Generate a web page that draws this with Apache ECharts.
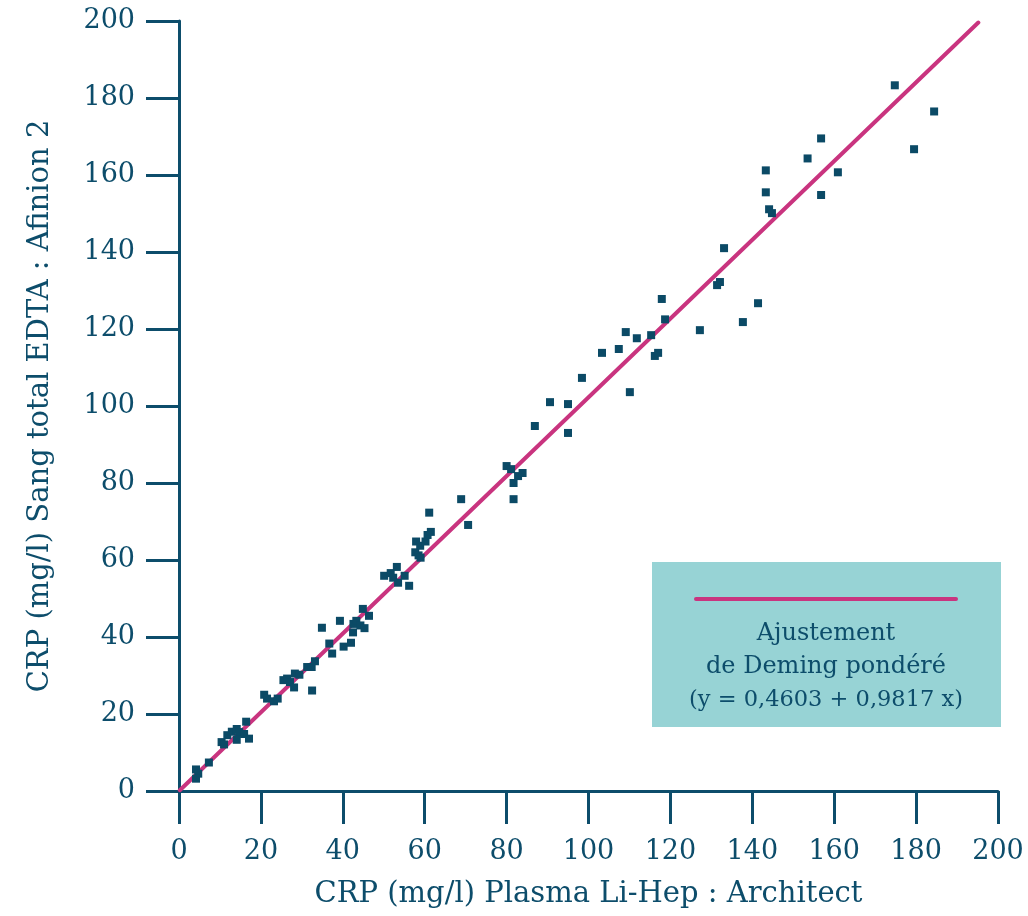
<!DOCTYPE html>
<html>
<head>
<meta charset="utf-8">
<script src="https://cdn.jsdelivr.net/npm/echarts@6/dist/echarts.min.js"></script>
<style>
html,body{margin:0;padding:0;background:#fff;}
#chart{width:1028px;height:916px;}
</style>
</head>
<body>
<div id="chart"></div>
<script>
// Data
var plasmaX = [
  4.15,4.7,4.15,7.3,10.4,11.0,11.8,12.9,14.1,14.7,14.1,15.9,16.4,17.1,
  20.8,21.5,23.2,24.1,25.5,26.4,27.1,28.1,28.3,29.4,31.3,32.4,33.2,32.5,
  34.9,36.7,37.4,39.3,40.2,42.0,42.5,42.6,43.3,44.3,45.3,44.9,46.4,
  50.1,51.7,52.3,53.2,53.5,55.1,56.2,57.7,57.9,58.5,58.9,59.0,60.2,60.7,61.1,61.5,
  68.9,70.6,
  80.0,81.1,81.7,81.7,82.8,83.9,86.9,90.6,95.0,95.0,98.4,
  103.3,107.4,109.1,110.1,111.8,115.3,116.2,117.0,117.9,118.7,127.2,
  131.4,132.1,133.1,137.7,141.4,143.3,143.3,144.1,144.8,
  153.5,156.8,156.8,160.9,174.8,179.5,184.4
];
var bloodY = [
  5.6,4.5,3.2,7.4,12.7,12.1,14.5,15.4,16.1,15.3,13.3,14.8,18.0,13.6,
  25.0,24.0,23.3,24.0,28.8,29.2,28.3,26.9,30.5,30.2,32.2,32.2,33.7,26.1,
  42.4,38.3,35.7,44.2,37.5,38.5,41.2,43.4,44.2,43.0,42.3,47.3,45.5,
  55.9,56.6,55.4,58.2,54.1,55.9,53.3,62.0,64.8,61.2,63.7,60.6,64.8,66.5,72.3,67.3,
  75.8,69.1,
  84.4,83.6,80.0,75.8,81.8,82.6,94.8,101.0,100.5,93.0,107.3,
  113.8,114.8,119.2,103.6,117.6,118.4,113.0,113.8,127.8,122.5,119.7,
  131.4,132.2,141.0,121.8,126.7,161.2,155.5,151.1,150.1,
  164.3,169.5,154.8,160.7,183.3,166.7,176.5
];
// Fitted line as drawn (start / end)
var fitX = [0.2, 195.2];
var fitY = [0.2, 199.6];
var axisTicks = [0, 20, 40, 60, 80, 100, 120, 140, 160, 180, 200];
var xTitle = 'CRP (mg/l) Plasma Li-Hep : Architect';
var yTitle = 'CRP (mg/l) Sang total EDTA : Afinion 2';
var legendLines = ['Ajustement', 'de Deming pondéré', '(y = 0,4603 + 0,9817 x)'];

var C_AXIS = '#0d4d6b';
var C_PT = '#0b4a66';
var C_FIT = '#c9347f';
var C_BOX = '#97d3d5';
var FONT = 'DejaVu Serif';

var pts = plasmaX.map(function(x, i){ return [x, bloodY[i]]; });
var fit = fitX.map(function(x, i){ return [x, fitY[i]]; });

function axisCfg(isX){
  return {
    type: 'value',
    min: axisTicks[0],
    max: axisTicks[axisTicks.length-1],
    interval: axisTicks[1]-axisTicks[0],
    name: isX ? xTitle : yTitle,
    nameLocation: 'middle',
    nameGap: isX ? 89 : 124,
    nameTextStyle: {color: C_AXIS, fontFamily: FONT, fontSize: 29},
    axisLine: {show: true, onZero: false, lineStyle: {color: C_AXIS, width: 3}},
    axisTick: {show: true, inside: false, length: 33, lineStyle: {color: C_AXIS, width: 3}},
    axisLabel: {color: C_AXIS, fontFamily: FONT, fontSize: 27, margin: isX ? 47 : 44},
    splitLine: {show: false}
  };
}

var chart = echarts.init(document.getElementById('chart'), null, {renderer: 'canvas'});
chart.setOption({
  animation: false,
  backgroundColor: '#ffffff',
  grid: {left: 179, right: 30, top: 21, bottom: 125, containLabel: false},
  xAxis: axisCfg(true),
  yAxis: axisCfg(false),
  series: [
    {
      type: 'line',
      data: fit,
      showSymbol: false,
      symbol: 'none',
      lineStyle: {color: C_FIT, width: 4, cap: 'round'},
      z: 2
    },
    {
      type: 'scatter',
      data: pts,
      symbol: 'rect',
      symbolSize: 8,
      itemStyle: {color: C_PT, opacity: 1},
      z: 3
    }
  ],
  graphic: [
    {type: 'rect', left: 652, top: 562, shape: {width: 349, height: 165}, style: {fill: C_BOX}, z: 10},
    {type: 'line', shape: {x1: 696, y1: 599, x2: 956, y2: 599}, style: {stroke: C_FIT, lineWidth: 4, lineCap: 'round'}, z: 11},
    {type: 'text', x: 826, y: 634, style: {text: legendLines[0], fill: C_AXIS, font: '24px "DejaVu Serif"', textAlign: 'center', textVerticalAlign: 'middle'}, z: 11},
    {type: 'text', x: 826, y: 667, style: {text: legendLines[1], fill: C_AXIS, font: '24px "DejaVu Serif"', textAlign: 'center', textVerticalAlign: 'middle'}, z: 11},
    {type: 'text', x: 826, y: 700, style: {text: legendLines[2], fill: C_AXIS, font: '22.5px "DejaVu Serif"', textAlign: 'center', textVerticalAlign: 'middle'}, z: 11}
  ]
});
</script>
</body>
</html>
